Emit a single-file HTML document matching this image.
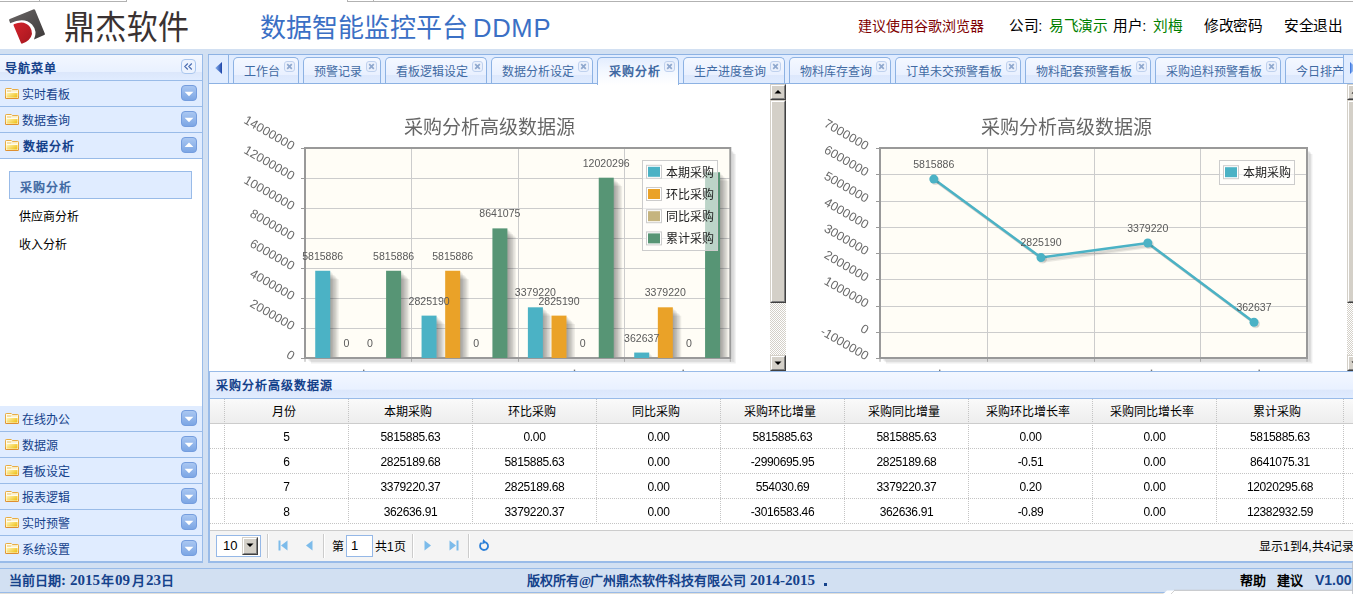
<!DOCTYPE html>
<html lang="zh-CN">
<head>
<meta charset="utf-8">
<title>数据智能监控平台 DDMP</title>
<style>
html,body{margin:0;padding:0}
body{width:1353px;height:594px;overflow:hidden;position:relative;background:#D2E0F2;font-family:"Liberation Sans",sans-serif;font-size:12px;line-height:12px;color:#000}
div,span,svg{position:absolute;box-sizing:border-box;white-space:nowrap}
.t{height:12px;line-height:12px;font-size:12px;margin-top:1px}
.b{font-weight:bold}
.b i{width:13px}
.nav{color:#15428B}
.hd{left:0;width:202px;height:25px;background:#E0ECFF}
.hl{left:0;width:202px;height:1px;background:#99BBE8}
.ab{left:181px;width:16px;height:16px}
.fi{left:5px;width:14px;height:11px}
.tab{top:57px;height:27px;border:1px solid #8DB2E3;border-bottom:0;border-radius:5px 5px 0 0;background:linear-gradient(#F4F8FF 0,#E9F0FF 68%,#DDE8FC 70%,#E0ECFF 100%);color:#416AA3}
.tab .t{left:10px;top:7px}
.tab.sel{background:linear-gradient(#E3EDFE 0,#F2F7FF 45%,#FFFFFF 100%);height:28px}
.cx{top:3px;right:3px;width:11px;height:11px}
.num{font-size:12px;letter-spacing:-0.35px;margin-top:0}
i{font-style:normal;display:inline-block;width:1em;text-align:center}
</style>
</head>
<body>
<div style="left:0;top:0;width:1353px;height:49px;background:#fff"></div>
<div style="left:0;top:1px;width:126px;height:1px;background:#b2b2b2"></div>
<div style="left:347px;top:1px;width:1006px;height:1px;background:#b2b2b2"></div>
<div style="left:39px;top:0;width:1px;height:2px;background:#b2b2b2"></div>
<div style="left:126px;top:0;width:1px;height:2px;background:#b2b2b2"></div>
<div style="left:347px;top:0;width:1px;height:2px;background:#b2b2b2"></div>
<div style="left:373px;top:0;width:1px;height:2px;background:#b2b2b2"></div>
<svg style="left:0;top:2px" width="200" height="47" viewBox="0 2 200 47"><defs><linearGradient id="lg1" x1="0" y1="0" x2="1" y2="1"><stop offset="0" stop-color="#6a6666"/><stop offset="1" stop-color="#3d3a3a"/></linearGradient><linearGradient id="lg2" x1="0" y1="0" x2="1" y2="1"><stop offset="0" stop-color="#d4232b"/><stop offset="1" stop-color="#a5171f"/></linearGradient></defs><path d="M9.2 20.6 Q8.6 19.6 9.8 19.1 L33.2 9.4 Q34.6 8.8 35.2 10.2 L44.8 33.4 Q45.3 34.6 44.2 35.1 L34 39.6 Q37.8 31.2 32 24.6 Q24.5 16.6 10.2 23.2 Z" fill="url(#lg1)"/><path d="M13.6 25.4 Q13.2 24.4 14.3 24 Q24.5 19.8 30 27 Q34.6 34 28.6 40 Q26 42.4 22.4 43.6 Q21.4 43.9 21 43 Z" fill="url(#lg2)"/><text x="64" y="37.5" font-size="31" textLength="125" lengthAdjust="spacing" fill="#3a3232" font-family="'Liberation Sans','Noto Sans CJK SC',sans-serif" transform="translate(0 11) scale(1 1.05) translate(0 -11)">鼎杰软件</text></svg>
<div style="left:260px;top:15px;height:27px;line-height:27px;font-size:26px;color:#3b70c5"><i>数</i><i>据</i><i>智</i><i>能</i><i>监</i><i>控</i><i>平</i><i>台</i></div>
<div style="left:473px;top:15px;height:27px;line-height:27px;font-size:25.6px;letter-spacing:0.7px;color:#3b70c5">DDMP</div>
<div style="left:858px;top:19px;height:14px;line-height:14px;font-size:14px;color:#800000"><i>建</i><i>议</i><i>使</i><i>用</i><i>谷</i><i>歌</i><i>浏</i><i>览</i><i>器</i></div>
<div style="left:1009px;top:19px;height:15px;line-height:15px;font-size:14.67px"><i>公</i><i>司</i>:</div>
<div style="left:1049px;top:19px;height:15px;line-height:15px;font-size:14.67px;color:#008000"><i>易</i><i>飞</i><i>演</i><i>示</i></div>
<div style="left:1113px;top:19px;height:15px;line-height:15px;font-size:14.67px"><i>用</i><i>户</i>:</div>
<div style="left:1153px;top:19px;height:15px;line-height:15px;font-size:14.67px;color:#008000"><i>刘</i><i>梅</i></div>
<div style="left:1204px;top:19px;height:15px;line-height:15px;font-size:14.67px"><i>修</i><i>改</i><i>密</i><i>码</i></div>
<div style="left:1284px;top:19px;height:15px;line-height:15px;font-size:14.67px"><i>安</i><i>全</i><i>退</i><i>出</i></div>
<div style="left:-1px;top:54px;width:204px;height:509px;border:1px solid #99BBE8;background:#fff"></div>
<div style="left:0;top:55px;width:202px;height:25px;background:linear-gradient(#F3F7FF 0,#E9F1FF 66%,#DCE7FB 70%,#E0ECFF 100%)"></div>
<div class="hl" style="top:80px"></div>
<div class="t b nav" style="left:4px;top:62px"><i>导</i><i>航</i><i>菜</i><i>单</i></div>
<svg style="left:181px;top:59px" width="15" height="15" viewBox="0 0 15 15"><rect x="0.5" y="0.5" width="14" height="14" rx="3.5" fill="#EDF3FE" stroke="#A9C6EE"/><path d="M6.8 4.5L3.8 7.5L6.8 10.5M10.8 4.5L7.8 7.5L10.8 10.5" fill="none" stroke="#4A6CB0" stroke-width="1.15"/></svg>
<div class="hd" style="top:81px"></div>
<div class="hl" style="top:106px"></div>
<svg class="fi" style="top:88px" viewBox="0 0 14 11"><defs><linearGradient id="fg0" x1="0" y1="0" x2="1" y2="0.6"><stop offset="0" stop-color="#FFF5B8"/><stop offset="1" stop-color="#F0C524"/></linearGradient></defs><path d="M0.5 1.2Q0.5 0.5 1.2 0.5H6.3L7.3 1.5H12.8Q13.5 1.5 13.5 2.2V9.8Q13.5 10.5 12.8 10.5H1.2Q0.5 10.5 0.5 9.8Z" fill="#FFFCEC" stroke="#E8AC44"/><path d="M2 2.4H6V3.6H2Z" fill="#EFCB78"/><path d="M6 2.9H12.5" stroke="#F3DA9A" stroke-width="0.8"/><path d="M1.5 5H12.5V9.6H1.5Z" fill="url(#fg0)"/><path d="M0.5 8.5V9.8Q0.5 10.5 1.2 10.5H12.8Q13.5 10.5 13.5 9.8V8.5" fill="none" stroke="#DE8F30"/></svg>
<div class="t nav" style="left:22px;top:88px"><i>实</i><i>时</i><i>看</i><i>板</i></div>
<svg class="ab" style="top:85px" viewBox="0 0 16 16"><defs><linearGradient id="ag85" x1="0" y1="0" x2="0" y2="1"><stop offset="0" stop-color="#ABC8F2"/><stop offset="1" stop-color="#7BA5E4"/></linearGradient></defs><rect x="0.5" y="0.5" width="15" height="15" rx="3.5" fill="url(#ag85)" stroke="#759DDE"/><path d="M3.6 6.8L8 11.2L12.4 6.8Z" fill="#fff"/></svg>
<div class="hd" style="top:107px"></div>
<div class="hl" style="top:132px"></div>
<svg class="fi" style="top:114px" viewBox="0 0 14 11"><defs><linearGradient id="fg1" x1="0" y1="0" x2="1" y2="0.6"><stop offset="0" stop-color="#FFF5B8"/><stop offset="1" stop-color="#F0C524"/></linearGradient></defs><path d="M0.5 1.2Q0.5 0.5 1.2 0.5H6.3L7.3 1.5H12.8Q13.5 1.5 13.5 2.2V9.8Q13.5 10.5 12.8 10.5H1.2Q0.5 10.5 0.5 9.8Z" fill="#FFFCEC" stroke="#E8AC44"/><path d="M2 2.4H6V3.6H2Z" fill="#EFCB78"/><path d="M6 2.9H12.5" stroke="#F3DA9A" stroke-width="0.8"/><path d="M1.5 5H12.5V9.6H1.5Z" fill="url(#fg1)"/><path d="M0.5 8.5V9.8Q0.5 10.5 1.2 10.5H12.8Q13.5 10.5 13.5 9.8V8.5" fill="none" stroke="#DE8F30"/></svg>
<div class="t nav" style="left:22px;top:114px"><i>数</i><i>据</i><i>查</i><i>询</i></div>
<svg class="ab" style="top:111px" viewBox="0 0 16 16"><defs><linearGradient id="ag111" x1="0" y1="0" x2="0" y2="1"><stop offset="0" stop-color="#ABC8F2"/><stop offset="1" stop-color="#7BA5E4"/></linearGradient></defs><rect x="0.5" y="0.5" width="15" height="15" rx="3.5" fill="url(#ag111)" stroke="#759DDE"/><path d="M3.6 6.8L8 11.2L12.4 6.8Z" fill="#fff"/></svg>
<div class="hd" style="top:133px"></div>
<div class="hl" style="top:158px"></div>
<svg class="fi" style="top:140px" viewBox="0 0 14 11"><defs><linearGradient id="fg2" x1="0" y1="0" x2="1" y2="0.6"><stop offset="0" stop-color="#FFF5B8"/><stop offset="1" stop-color="#F0C524"/></linearGradient></defs><path d="M0.5 1.2Q0.5 0.5 1.2 0.5H6.3L7.3 1.5H12.8Q13.5 1.5 13.5 2.2V9.8Q13.5 10.5 12.8 10.5H1.2Q0.5 10.5 0.5 9.8Z" fill="#FFFCEC" stroke="#E8AC44"/><path d="M2 2.4H6V3.6H2Z" fill="#EFCB78"/><path d="M6 2.9H12.5" stroke="#F3DA9A" stroke-width="0.8"/><path d="M1.5 5H12.5V9.6H1.5Z" fill="url(#fg2)"/><path d="M0.5 8.5V9.8Q0.5 10.5 1.2 10.5H12.8Q13.5 10.5 13.5 9.8V8.5" fill="none" stroke="#DE8F30"/></svg>
<div class="t nav b" style="left:22px;top:140px"><i>数</i><i>据</i><i>分</i><i>析</i></div>
<svg class="ab" style="top:137px" viewBox="0 0 16 16"><defs><linearGradient id="ag137" x1="0" y1="0" x2="0" y2="1"><stop offset="0" stop-color="#ABC8F2"/><stop offset="1" stop-color="#7BA5E4"/></linearGradient></defs><rect x="0.5" y="0.5" width="15" height="15" rx="3.5" fill="url(#ag137)" stroke="#759DDE"/><path d="M3.6 9.9L8 5.5L12.4 9.9Z" fill="#fff"/></svg>
<div class="hd" style="top:406px"></div>
<div class="hl" style="top:431px"></div>
<svg class="fi" style="top:413px" viewBox="0 0 14 11"><defs><linearGradient id="fg3" x1="0" y1="0" x2="1" y2="0.6"><stop offset="0" stop-color="#FFF5B8"/><stop offset="1" stop-color="#F0C524"/></linearGradient></defs><path d="M0.5 1.2Q0.5 0.5 1.2 0.5H6.3L7.3 1.5H12.8Q13.5 1.5 13.5 2.2V9.8Q13.5 10.5 12.8 10.5H1.2Q0.5 10.5 0.5 9.8Z" fill="#FFFCEC" stroke="#E8AC44"/><path d="M2 2.4H6V3.6H2Z" fill="#EFCB78"/><path d="M6 2.9H12.5" stroke="#F3DA9A" stroke-width="0.8"/><path d="M1.5 5H12.5V9.6H1.5Z" fill="url(#fg3)"/><path d="M0.5 8.5V9.8Q0.5 10.5 1.2 10.5H12.8Q13.5 10.5 13.5 9.8V8.5" fill="none" stroke="#DE8F30"/></svg>
<div class="t nav" style="left:22px;top:413px"><i>在</i><i>线</i><i>办</i><i>公</i></div>
<svg class="ab" style="top:410px" viewBox="0 0 16 16"><defs><linearGradient id="ag410" x1="0" y1="0" x2="0" y2="1"><stop offset="0" stop-color="#ABC8F2"/><stop offset="1" stop-color="#7BA5E4"/></linearGradient></defs><rect x="0.5" y="0.5" width="15" height="15" rx="3.5" fill="url(#ag410)" stroke="#759DDE"/><path d="M3.6 6.8L8 11.2L12.4 6.8Z" fill="#fff"/></svg>
<div class="hd" style="top:432px"></div>
<div class="hl" style="top:457px"></div>
<svg class="fi" style="top:439px" viewBox="0 0 14 11"><defs><linearGradient id="fg4" x1="0" y1="0" x2="1" y2="0.6"><stop offset="0" stop-color="#FFF5B8"/><stop offset="1" stop-color="#F0C524"/></linearGradient></defs><path d="M0.5 1.2Q0.5 0.5 1.2 0.5H6.3L7.3 1.5H12.8Q13.5 1.5 13.5 2.2V9.8Q13.5 10.5 12.8 10.5H1.2Q0.5 10.5 0.5 9.8Z" fill="#FFFCEC" stroke="#E8AC44"/><path d="M2 2.4H6V3.6H2Z" fill="#EFCB78"/><path d="M6 2.9H12.5" stroke="#F3DA9A" stroke-width="0.8"/><path d="M1.5 5H12.5V9.6H1.5Z" fill="url(#fg4)"/><path d="M0.5 8.5V9.8Q0.5 10.5 1.2 10.5H12.8Q13.5 10.5 13.5 9.8V8.5" fill="none" stroke="#DE8F30"/></svg>
<div class="t nav" style="left:22px;top:439px"><i>数</i><i>据</i><i>源</i></div>
<svg class="ab" style="top:436px" viewBox="0 0 16 16"><defs><linearGradient id="ag436" x1="0" y1="0" x2="0" y2="1"><stop offset="0" stop-color="#ABC8F2"/><stop offset="1" stop-color="#7BA5E4"/></linearGradient></defs><rect x="0.5" y="0.5" width="15" height="15" rx="3.5" fill="url(#ag436)" stroke="#759DDE"/><path d="M3.6 6.8L8 11.2L12.4 6.8Z" fill="#fff"/></svg>
<div class="hd" style="top:458px"></div>
<div class="hl" style="top:483px"></div>
<svg class="fi" style="top:465px" viewBox="0 0 14 11"><defs><linearGradient id="fg5" x1="0" y1="0" x2="1" y2="0.6"><stop offset="0" stop-color="#FFF5B8"/><stop offset="1" stop-color="#F0C524"/></linearGradient></defs><path d="M0.5 1.2Q0.5 0.5 1.2 0.5H6.3L7.3 1.5H12.8Q13.5 1.5 13.5 2.2V9.8Q13.5 10.5 12.8 10.5H1.2Q0.5 10.5 0.5 9.8Z" fill="#FFFCEC" stroke="#E8AC44"/><path d="M2 2.4H6V3.6H2Z" fill="#EFCB78"/><path d="M6 2.9H12.5" stroke="#F3DA9A" stroke-width="0.8"/><path d="M1.5 5H12.5V9.6H1.5Z" fill="url(#fg5)"/><path d="M0.5 8.5V9.8Q0.5 10.5 1.2 10.5H12.8Q13.5 10.5 13.5 9.8V8.5" fill="none" stroke="#DE8F30"/></svg>
<div class="t nav" style="left:22px;top:465px"><i>看</i><i>板</i><i>设</i><i>定</i></div>
<svg class="ab" style="top:462px" viewBox="0 0 16 16"><defs><linearGradient id="ag462" x1="0" y1="0" x2="0" y2="1"><stop offset="0" stop-color="#ABC8F2"/><stop offset="1" stop-color="#7BA5E4"/></linearGradient></defs><rect x="0.5" y="0.5" width="15" height="15" rx="3.5" fill="url(#ag462)" stroke="#759DDE"/><path d="M3.6 6.8L8 11.2L12.4 6.8Z" fill="#fff"/></svg>
<div class="hd" style="top:484px"></div>
<div class="hl" style="top:509px"></div>
<svg class="fi" style="top:491px" viewBox="0 0 14 11"><defs><linearGradient id="fg6" x1="0" y1="0" x2="1" y2="0.6"><stop offset="0" stop-color="#FFF5B8"/><stop offset="1" stop-color="#F0C524"/></linearGradient></defs><path d="M0.5 1.2Q0.5 0.5 1.2 0.5H6.3L7.3 1.5H12.8Q13.5 1.5 13.5 2.2V9.8Q13.5 10.5 12.8 10.5H1.2Q0.5 10.5 0.5 9.8Z" fill="#FFFCEC" stroke="#E8AC44"/><path d="M2 2.4H6V3.6H2Z" fill="#EFCB78"/><path d="M6 2.9H12.5" stroke="#F3DA9A" stroke-width="0.8"/><path d="M1.5 5H12.5V9.6H1.5Z" fill="url(#fg6)"/><path d="M0.5 8.5V9.8Q0.5 10.5 1.2 10.5H12.8Q13.5 10.5 13.5 9.8V8.5" fill="none" stroke="#DE8F30"/></svg>
<div class="t nav" style="left:22px;top:491px"><i>报</i><i>表</i><i>逻</i><i>辑</i></div>
<svg class="ab" style="top:488px" viewBox="0 0 16 16"><defs><linearGradient id="ag488" x1="0" y1="0" x2="0" y2="1"><stop offset="0" stop-color="#ABC8F2"/><stop offset="1" stop-color="#7BA5E4"/></linearGradient></defs><rect x="0.5" y="0.5" width="15" height="15" rx="3.5" fill="url(#ag488)" stroke="#759DDE"/><path d="M3.6 6.8L8 11.2L12.4 6.8Z" fill="#fff"/></svg>
<div class="hd" style="top:510px"></div>
<div class="hl" style="top:535px"></div>
<svg class="fi" style="top:517px" viewBox="0 0 14 11"><defs><linearGradient id="fg7" x1="0" y1="0" x2="1" y2="0.6"><stop offset="0" stop-color="#FFF5B8"/><stop offset="1" stop-color="#F0C524"/></linearGradient></defs><path d="M0.5 1.2Q0.5 0.5 1.2 0.5H6.3L7.3 1.5H12.8Q13.5 1.5 13.5 2.2V9.8Q13.5 10.5 12.8 10.5H1.2Q0.5 10.5 0.5 9.8Z" fill="#FFFCEC" stroke="#E8AC44"/><path d="M2 2.4H6V3.6H2Z" fill="#EFCB78"/><path d="M6 2.9H12.5" stroke="#F3DA9A" stroke-width="0.8"/><path d="M1.5 5H12.5V9.6H1.5Z" fill="url(#fg7)"/><path d="M0.5 8.5V9.8Q0.5 10.5 1.2 10.5H12.8Q13.5 10.5 13.5 9.8V8.5" fill="none" stroke="#DE8F30"/></svg>
<div class="t nav" style="left:22px;top:517px"><i>实</i><i>时</i><i>预</i><i>警</i></div>
<svg class="ab" style="top:514px" viewBox="0 0 16 16"><defs><linearGradient id="ag514" x1="0" y1="0" x2="0" y2="1"><stop offset="0" stop-color="#ABC8F2"/><stop offset="1" stop-color="#7BA5E4"/></linearGradient></defs><rect x="0.5" y="0.5" width="15" height="15" rx="3.5" fill="url(#ag514)" stroke="#759DDE"/><path d="M3.6 6.8L8 11.2L12.4 6.8Z" fill="#fff"/></svg>
<div class="hd" style="top:536px"></div>
<div class="hl" style="top:561px"></div>
<svg class="fi" style="top:543px" viewBox="0 0 14 11"><defs><linearGradient id="fg8" x1="0" y1="0" x2="1" y2="0.6"><stop offset="0" stop-color="#FFF5B8"/><stop offset="1" stop-color="#F0C524"/></linearGradient></defs><path d="M0.5 1.2Q0.5 0.5 1.2 0.5H6.3L7.3 1.5H12.8Q13.5 1.5 13.5 2.2V9.8Q13.5 10.5 12.8 10.5H1.2Q0.5 10.5 0.5 9.8Z" fill="#FFFCEC" stroke="#E8AC44"/><path d="M2 2.4H6V3.6H2Z" fill="#EFCB78"/><path d="M6 2.9H12.5" stroke="#F3DA9A" stroke-width="0.8"/><path d="M1.5 5H12.5V9.6H1.5Z" fill="url(#fg8)"/><path d="M0.5 8.5V9.8Q0.5 10.5 1.2 10.5H12.8Q13.5 10.5 13.5 9.8V8.5" fill="none" stroke="#DE8F30"/></svg>
<div class="t nav" style="left:22px;top:543px"><i>系</i><i>统</i><i>设</i><i>置</i></div>
<svg class="ab" style="top:540px" viewBox="0 0 16 16"><defs><linearGradient id="ag540" x1="0" y1="0" x2="0" y2="1"><stop offset="0" stop-color="#ABC8F2"/><stop offset="1" stop-color="#7BA5E4"/></linearGradient></defs><rect x="0.5" y="0.5" width="15" height="15" rx="3.5" fill="url(#ag540)" stroke="#759DDE"/><path d="M3.6 6.8L8 11.2L12.4 6.8Z" fill="#fff"/></svg>
<div style="left:9px;top:171px;width:183px;height:28px;border:1px solid #99BBE8;background:#E0ECFF"></div>
<div class="t b" style="left:19px;top:181px;color:#416AA3"><i>采</i><i>购</i><i>分</i><i>析</i></div>
<div class="t" style="left:19px;top:210px"><i>供</i><i>应</i><i>商</i><i>分</i><i>析</i></div>
<div class="t" style="left:19px;top:238px"><i>收</i><i>入</i><i>分</i><i>析</i></div>
<div style="left:208px;top:54px;width:1155px;height:509px;border:1px solid #99BBE8;background:#fff"></div>
<div style="left:209px;top:55px;width:1144px;height:28px;background:#E0ECFF"></div>
<div style="left:208px;top:54px;width:1145px;height:1px;background:#8DB2E3"></div>
<div style="left:209px;top:83px;width:1144px;height:1px;background:#8DB2E3"></div>
<div class="tab" style="left:233px;width:66px;height:26px"><span class="t"><i>工</i><i>作</i><i>台</i></span>
<svg class="cx" viewBox="0 0 11 11"><rect x="0.5" y="0.5" width="10" height="10" rx="2.5" fill="#EAF0FC" stroke="#BFD1EE"/><path d="M3.2 3.2L7.8 7.8M7.8 3.2L3.2 7.8" stroke="#8FA8CE" stroke-width="1.7" fill="none"/></svg></div>
<div class="tab" style="left:303px;width:78px;height:26px"><span class="t"><i>预</i><i>警</i><i>记</i><i>录</i></span>
<svg class="cx" viewBox="0 0 11 11"><rect x="0.5" y="0.5" width="10" height="10" rx="2.5" fill="#EAF0FC" stroke="#BFD1EE"/><path d="M3.2 3.2L7.8 7.8M7.8 3.2L3.2 7.8" stroke="#8FA8CE" stroke-width="1.7" fill="none"/></svg></div>
<div class="tab" style="left:385px;width:102px;height:26px"><span class="t"><i>看</i><i>板</i><i>逻</i><i>辑</i><i>设</i><i>定</i></span>
<svg class="cx" viewBox="0 0 11 11"><rect x="0.5" y="0.5" width="10" height="10" rx="2.5" fill="#EAF0FC" stroke="#BFD1EE"/><path d="M3.2 3.2L7.8 7.8M7.8 3.2L3.2 7.8" stroke="#8FA8CE" stroke-width="1.7" fill="none"/></svg></div>
<div class="tab" style="left:491px;width:102px;height:26px"><span class="t"><i>数</i><i>据</i><i>分</i><i>析</i><i>设</i><i>定</i></span>
<svg class="cx" viewBox="0 0 11 11"><rect x="0.5" y="0.5" width="10" height="10" rx="2.5" fill="#EAF0FC" stroke="#BFD1EE"/><path d="M3.2 3.2L7.8 7.8M7.8 3.2L3.2 7.8" stroke="#8FA8CE" stroke-width="1.7" fill="none"/></svg></div>
<div class="tab sel" style="left:597px;width:82px"><span class="t b"><i>采</i><i>购</i><i>分</i><i>析</i></span>
<svg class="cx" viewBox="0 0 11 11"><rect x="0.5" y="0.5" width="10" height="10" rx="2.5" fill="#EAF0FC" stroke="#BFD1EE"/><path d="M3.2 3.2L7.8 7.8M7.8 3.2L3.2 7.8" stroke="#8FA8CE" stroke-width="1.7" fill="none"/></svg></div>
<div class="tab" style="left:683px;width:102px;height:26px"><span class="t"><i>生</i><i>产</i><i>进</i><i>度</i><i>查</i><i>询</i></span>
<svg class="cx" viewBox="0 0 11 11"><rect x="0.5" y="0.5" width="10" height="10" rx="2.5" fill="#EAF0FC" stroke="#BFD1EE"/><path d="M3.2 3.2L7.8 7.8M7.8 3.2L3.2 7.8" stroke="#8FA8CE" stroke-width="1.7" fill="none"/></svg></div>
<div class="tab" style="left:789px;width:102px;height:26px"><span class="t"><i>物</i><i>料</i><i>库</i><i>存</i><i>查</i><i>询</i></span>
<svg class="cx" viewBox="0 0 11 11"><rect x="0.5" y="0.5" width="10" height="10" rx="2.5" fill="#EAF0FC" stroke="#BFD1EE"/><path d="M3.2 3.2L7.8 7.8M7.8 3.2L3.2 7.8" stroke="#8FA8CE" stroke-width="1.7" fill="none"/></svg></div>
<div class="tab" style="left:895px;width:126px;height:26px"><span class="t"><i>订</i><i>单</i><i>未</i><i>交</i><i>预</i><i>警</i><i>看</i><i>板</i></span>
<svg class="cx" viewBox="0 0 11 11"><rect x="0.5" y="0.5" width="10" height="10" rx="2.5" fill="#EAF0FC" stroke="#BFD1EE"/><path d="M3.2 3.2L7.8 7.8M7.8 3.2L3.2 7.8" stroke="#8FA8CE" stroke-width="1.7" fill="none"/></svg></div>
<div class="tab" style="left:1025px;width:126px;height:26px"><span class="t"><i>物</i><i>料</i><i>配</i><i>套</i><i>预</i><i>警</i><i>看</i><i>板</i></span>
<svg class="cx" viewBox="0 0 11 11"><rect x="0.5" y="0.5" width="10" height="10" rx="2.5" fill="#EAF0FC" stroke="#BFD1EE"/><path d="M3.2 3.2L7.8 7.8M7.8 3.2L3.2 7.8" stroke="#8FA8CE" stroke-width="1.7" fill="none"/></svg></div>
<div class="tab" style="left:1155px;width:126px;height:26px"><span class="t"><i>采</i><i>购</i><i>追</i><i>料</i><i>预</i><i>警</i><i>看</i><i>板</i></span>
<svg class="cx" viewBox="0 0 11 11"><rect x="0.5" y="0.5" width="10" height="10" rx="2.5" fill="#EAF0FC" stroke="#BFD1EE"/><path d="M3.2 3.2L7.8 7.8M7.8 3.2L3.2 7.8" stroke="#8FA8CE" stroke-width="1.7" fill="none"/></svg></div>
<div class="tab" style="left:1285px;width:102px;height:26px"><span class="t"><i>今</i><i>日</i><i>排</i><i>产</i><i>计</i><i>划</i></span>
<svg class="cx" viewBox="0 0 11 11"><rect x="0.5" y="0.5" width="10" height="10" rx="2.5" fill="#EAF0FC" stroke="#BFD1EE"/><path d="M3.2 3.2L7.8 7.8M7.8 3.2L3.2 7.8" stroke="#8FA8CE" stroke-width="1.7" fill="none"/></svg></div>
<div style="left:209px;top:55px;width:19px;height:28px;background:#E0ECFF"></div>
<div style="left:228px;top:55px;width:1px;height:28px;background:#8DB2E3"></div>
<svg style="left:214px;top:61px" width="10" height="14" viewBox="0 0 10 14"><defs><linearGradient id="sa" x1="0" y1="0" x2="1" y2="0"><stop offset="0" stop-color="#8DB6F0"/><stop offset="1" stop-color="#1B43A8"/></linearGradient></defs><path d="M8 1V13L1.2 7Z" fill="url(#sa)"/></svg>
<div style="left:1343px;top:55px;width:10px;height:28px;background:#E0ECFF;border-left:1px solid #8DB2E3"></div>
<svg style="left:1348px;top:61px" width="10" height="14" viewBox="0 0 10 14"><defs><linearGradient id="sb" x1="0" y1="0" x2="1" y2="0"><stop offset="0" stop-color="#2F6ADB"/><stop offset="0.3" stop-color="#86B0F0"/><stop offset="1" stop-color="#B5D0F6"/></linearGradient></defs><path d="M2 1V13L8.8 7Z" fill="url(#sb)"/></svg>
<svg style="left:209px;top:84px;will-change:transform" width="561" height="287" viewBox="209 84 561 287"><path d="M308.3 359.3H731.5999999999999V151.3" fill="none" stroke="#000" stroke-opacity="0.07" stroke-width="3"/><path d="M309.6 360.6H732.9V152.6" fill="none" stroke="#000" stroke-opacity="0.07" stroke-width="3"/><path d="M310.9 361.9H734.1999999999999V153.9" fill="none" stroke="#000" stroke-opacity="0.07" stroke-width="3"/><rect x="305" y="148" width="425.30" height="210.00" fill="#fffdf6"/><path d="M305 178.50H730.3" stroke="#cccccc" stroke-width="1"/><path d="M305 208.50H730.3" stroke="#cccccc" stroke-width="1"/><path d="M305 238.50H730.3" stroke="#cccccc" stroke-width="1"/><path d="M305 268.50H730.3" stroke="#cccccc" stroke-width="1"/><path d="M305 298.50H730.3" stroke="#cccccc" stroke-width="1"/><path d="M305 328.50H730.3" stroke="#cccccc" stroke-width="1"/><path d="M411.50 148V358" stroke="#cccccc" stroke-width="1"/><path d="M518.50 148V358" stroke="#cccccc" stroke-width="1"/><path d="M624.50 148V358" stroke="#cccccc" stroke-width="1"/><path d="M301 148.50H305" stroke="#999" stroke-width="1"/><path d="M301 178.50H305" stroke="#999" stroke-width="1"/><path d="M301 208.50H305" stroke="#999" stroke-width="1"/><path d="M301 238.50H305" stroke="#999" stroke-width="1"/><path d="M301 268.50H305" stroke="#999" stroke-width="1"/><path d="M301 298.50H305" stroke="#999" stroke-width="1"/><path d="M301 328.50H305" stroke="#999" stroke-width="1"/><path d="M301 358.50H305" stroke="#999" stroke-width="1"/><path d="M305.00 358V361.8" stroke="#aaa" stroke-width="1"/><path d="M411.50 358V361.8" stroke="#aaa" stroke-width="1"/><path d="M518.50 358V361.8" stroke="#aaa" stroke-width="1"/><path d="M624.50 358V361.8" stroke="#aaa" stroke-width="1"/><path d="M730.30 358V361.8" stroke="#aaa" stroke-width="1"/><rect x="305" y="148" width="425.30" height="210.00" fill="none" stroke="#999999" stroke-width="2"/><rect x="316.63" y="272.16" width="15" height="84.84" fill="#1e1a16" fill-opacity="0.075"/><rect x="318.03" y="273.56" width="15" height="83.44" fill="#1e1a16" fill-opacity="0.075"/><rect x="319.43" y="274.96" width="15" height="82.04" fill="#1e1a16" fill-opacity="0.075"/><rect x="320.83" y="276.36" width="15" height="80.64" fill="#1e1a16" fill-opacity="0.075"/><rect x="322.23" y="277.76" width="15" height="79.24" fill="#1e1a16" fill-opacity="0.075"/><rect x="323.63" y="279.16" width="15" height="77.84" fill="#1e1a16" fill-opacity="0.075"/><rect x="387.49" y="272.16" width="15" height="84.84" fill="#1e1a16" fill-opacity="0.075"/><rect x="388.89" y="273.56" width="15" height="83.44" fill="#1e1a16" fill-opacity="0.075"/><rect x="390.29" y="274.96" width="15" height="82.04" fill="#1e1a16" fill-opacity="0.075"/><rect x="391.69" y="276.36" width="15" height="80.64" fill="#1e1a16" fill-opacity="0.075"/><rect x="393.09" y="277.76" width="15" height="79.24" fill="#1e1a16" fill-opacity="0.075"/><rect x="394.49" y="279.16" width="15" height="77.84" fill="#1e1a16" fill-opacity="0.075"/><rect x="422.96" y="317.02" width="15" height="39.98" fill="#1e1a16" fill-opacity="0.075"/><rect x="424.36" y="318.42" width="15" height="38.58" fill="#1e1a16" fill-opacity="0.075"/><rect x="425.76" y="319.82" width="15" height="37.18" fill="#1e1a16" fill-opacity="0.075"/><rect x="427.16" y="321.22" width="15" height="35.78" fill="#1e1a16" fill-opacity="0.075"/><rect x="428.56" y="322.62" width="15" height="34.38" fill="#1e1a16" fill-opacity="0.075"/><rect x="429.96" y="324.02" width="15" height="32.98" fill="#1e1a16" fill-opacity="0.075"/><rect x="446.58" y="272.16" width="15" height="84.84" fill="#1e1a16" fill-opacity="0.075"/><rect x="447.98" y="273.56" width="15" height="83.44" fill="#1e1a16" fill-opacity="0.075"/><rect x="449.38" y="274.96" width="15" height="82.04" fill="#1e1a16" fill-opacity="0.075"/><rect x="450.78" y="276.36" width="15" height="80.64" fill="#1e1a16" fill-opacity="0.075"/><rect x="452.18" y="277.76" width="15" height="79.24" fill="#1e1a16" fill-opacity="0.075"/><rect x="453.58" y="279.16" width="15" height="77.84" fill="#1e1a16" fill-opacity="0.075"/><rect x="493.82" y="229.78" width="15" height="127.22" fill="#1e1a16" fill-opacity="0.075"/><rect x="495.22" y="231.18" width="15" height="125.82" fill="#1e1a16" fill-opacity="0.075"/><rect x="496.62" y="232.58" width="15" height="124.42" fill="#1e1a16" fill-opacity="0.075"/><rect x="498.02" y="233.98" width="15" height="123.02" fill="#1e1a16" fill-opacity="0.075"/><rect x="499.42" y="235.38" width="15" height="121.62" fill="#1e1a16" fill-opacity="0.075"/><rect x="500.82" y="236.78" width="15" height="120.22" fill="#1e1a16" fill-opacity="0.075"/><rect x="529.28" y="308.71" width="15" height="48.29" fill="#1e1a16" fill-opacity="0.075"/><rect x="530.68" y="310.11" width="15" height="46.89" fill="#1e1a16" fill-opacity="0.075"/><rect x="532.08" y="311.51" width="15" height="45.49" fill="#1e1a16" fill-opacity="0.075"/><rect x="533.48" y="312.91" width="15" height="44.09" fill="#1e1a16" fill-opacity="0.075"/><rect x="534.88" y="314.31" width="15" height="42.69" fill="#1e1a16" fill-opacity="0.075"/><rect x="536.28" y="315.71" width="15" height="41.29" fill="#1e1a16" fill-opacity="0.075"/><rect x="552.90" y="317.02" width="15" height="39.98" fill="#1e1a16" fill-opacity="0.075"/><rect x="554.30" y="318.42" width="15" height="38.58" fill="#1e1a16" fill-opacity="0.075"/><rect x="555.70" y="319.82" width="15" height="37.18" fill="#1e1a16" fill-opacity="0.075"/><rect x="557.10" y="321.22" width="15" height="35.78" fill="#1e1a16" fill-opacity="0.075"/><rect x="558.50" y="322.62" width="15" height="34.38" fill="#1e1a16" fill-opacity="0.075"/><rect x="559.90" y="324.02" width="15" height="32.98" fill="#1e1a16" fill-opacity="0.075"/><rect x="600.14" y="179.10" width="15" height="177.90" fill="#1e1a16" fill-opacity="0.075"/><rect x="601.54" y="180.50" width="15" height="176.50" fill="#1e1a16" fill-opacity="0.075"/><rect x="602.94" y="181.90" width="15" height="175.10" fill="#1e1a16" fill-opacity="0.075"/><rect x="604.34" y="183.30" width="15" height="173.70" fill="#1e1a16" fill-opacity="0.075"/><rect x="605.74" y="184.70" width="15" height="172.30" fill="#1e1a16" fill-opacity="0.075"/><rect x="607.14" y="186.10" width="15" height="170.90" fill="#1e1a16" fill-opacity="0.075"/><rect x="635.61" y="353.96" width="15" height="3.04" fill="#1e1a16" fill-opacity="0.075"/><rect x="637.01" y="355.36" width="15" height="1.64" fill="#1e1a16" fill-opacity="0.075"/><rect x="638.41" y="356.76" width="15" height="0.24" fill="#1e1a16" fill-opacity="0.075"/><rect x="639.81" y="358.16" width="15" height="0.00" fill="#1e1a16" fill-opacity="0.075"/><rect x="641.21" y="359.56" width="15" height="0.00" fill="#1e1a16" fill-opacity="0.075"/><rect x="642.61" y="360.96" width="15" height="0.00" fill="#1e1a16" fill-opacity="0.075"/><rect x="659.23" y="308.71" width="15" height="48.29" fill="#1e1a16" fill-opacity="0.075"/><rect x="660.63" y="310.11" width="15" height="46.89" fill="#1e1a16" fill-opacity="0.075"/><rect x="662.03" y="311.51" width="15" height="45.49" fill="#1e1a16" fill-opacity="0.075"/><rect x="663.43" y="312.91" width="15" height="44.09" fill="#1e1a16" fill-opacity="0.075"/><rect x="664.83" y="314.31" width="15" height="42.69" fill="#1e1a16" fill-opacity="0.075"/><rect x="666.23" y="315.71" width="15" height="41.29" fill="#1e1a16" fill-opacity="0.075"/><rect x="706.47" y="173.66" width="15" height="183.34" fill="#1e1a16" fill-opacity="0.075"/><rect x="707.87" y="175.06" width="15" height="181.94" fill="#1e1a16" fill-opacity="0.075"/><rect x="709.27" y="176.46" width="15" height="180.54" fill="#1e1a16" fill-opacity="0.075"/><rect x="710.67" y="177.86" width="15" height="179.14" fill="#1e1a16" fill-opacity="0.075"/><rect x="712.07" y="179.26" width="15" height="177.74" fill="#1e1a16" fill-opacity="0.075"/><rect x="713.47" y="180.66" width="15" height="176.34" fill="#1e1a16" fill-opacity="0.075"/><rect x="315.23" y="270.76" width="15" height="87.24" fill="#4bb2c5"/><rect x="386.09" y="270.76" width="15" height="87.24" fill="#579575"/><rect x="421.56" y="315.62" width="15" height="42.38" fill="#4bb2c5"/><rect x="445.18" y="270.76" width="15" height="87.24" fill="#EAA228"/><rect x="492.42" y="228.38" width="15" height="129.62" fill="#579575"/><rect x="527.88" y="307.31" width="15" height="50.69" fill="#4bb2c5"/><rect x="551.50" y="315.62" width="15" height="42.38" fill="#EAA228"/><rect x="598.74" y="177.70" width="15" height="180.30" fill="#579575"/><rect x="634.21" y="352.56" width="15" height="5.44" fill="#4bb2c5"/><rect x="657.83" y="307.31" width="15" height="50.69" fill="#EAA228"/><rect x="705.07" y="172.26" width="15" height="185.74" fill="#579575"/><text x="291.5" y="150.6" text-anchor="end" transform="rotate(30 291.5 150.6)" font-family="Liberation Sans, sans-serif" font-size="12.6" fill="#6b6b6b">14000000</text><text x="291.5" y="180.6" text-anchor="end" transform="rotate(30 291.5 180.6)" font-family="Liberation Sans, sans-serif" font-size="12.6" fill="#6b6b6b">12000000</text><text x="291.5" y="210.6" text-anchor="end" transform="rotate(30 291.5 210.6)" font-family="Liberation Sans, sans-serif" font-size="12.6" fill="#6b6b6b">10000000</text><text x="291.5" y="240.6" text-anchor="end" transform="rotate(30 291.5 240.6)" font-family="Liberation Sans, sans-serif" font-size="12.6" fill="#6b6b6b">8000000</text><text x="291.5" y="270.6" text-anchor="end" transform="rotate(30 291.5 270.6)" font-family="Liberation Sans, sans-serif" font-size="12.6" fill="#6b6b6b">6000000</text><text x="291.5" y="300.6" text-anchor="end" transform="rotate(30 291.5 300.6)" font-family="Liberation Sans, sans-serif" font-size="12.6" fill="#6b6b6b">4000000</text><text x="291.5" y="330.6" text-anchor="end" transform="rotate(30 291.5 330.6)" font-family="Liberation Sans, sans-serif" font-size="12.6" fill="#6b6b6b">2000000</text><text x="291.5" y="360.6" text-anchor="end" transform="rotate(30 291.5 360.6)" font-family="Liberation Sans, sans-serif" font-size="12.6" fill="#6b6b6b">0</text><text x="322.7" y="259.8" text-anchor="middle" textLength="41.1" lengthAdjust="spacingAndGlyphs" font-family="Liberation Sans, sans-serif" font-size="11.6" fill="#5a5a5a">5815886</text><text x="346.4" y="347.0" text-anchor="middle" textLength="5.9" lengthAdjust="spacingAndGlyphs" font-family="Liberation Sans, sans-serif" font-size="11.6" fill="#5a5a5a">0</text><text x="370.0" y="347.0" text-anchor="middle" textLength="5.9" lengthAdjust="spacingAndGlyphs" font-family="Liberation Sans, sans-serif" font-size="11.6" fill="#5a5a5a">0</text><text x="393.6" y="259.8" text-anchor="middle" textLength="41.1" lengthAdjust="spacingAndGlyphs" font-family="Liberation Sans, sans-serif" font-size="11.6" fill="#5a5a5a">5815886</text><text x="429.1" y="304.6" text-anchor="middle" textLength="41.1" lengthAdjust="spacingAndGlyphs" font-family="Liberation Sans, sans-serif" font-size="11.6" fill="#5a5a5a">2825190</text><text x="452.7" y="259.8" text-anchor="middle" textLength="41.1" lengthAdjust="spacingAndGlyphs" font-family="Liberation Sans, sans-serif" font-size="11.6" fill="#5a5a5a">5815886</text><text x="476.3" y="347.0" text-anchor="middle" textLength="5.9" lengthAdjust="spacingAndGlyphs" font-family="Liberation Sans, sans-serif" font-size="11.6" fill="#5a5a5a">0</text><text x="499.9" y="217.4" text-anchor="middle" textLength="41.1" lengthAdjust="spacingAndGlyphs" font-family="Liberation Sans, sans-serif" font-size="11.6" fill="#5a5a5a">8641075</text><text x="535.4" y="296.3" text-anchor="middle" textLength="41.1" lengthAdjust="spacingAndGlyphs" font-family="Liberation Sans, sans-serif" font-size="11.6" fill="#5a5a5a">3379220</text><text x="559.0" y="304.6" text-anchor="middle" textLength="41.1" lengthAdjust="spacingAndGlyphs" font-family="Liberation Sans, sans-serif" font-size="11.6" fill="#5a5a5a">2825190</text><text x="582.6" y="347.0" text-anchor="middle" textLength="5.9" lengthAdjust="spacingAndGlyphs" font-family="Liberation Sans, sans-serif" font-size="11.6" fill="#5a5a5a">0</text><text x="606.2" y="166.7" text-anchor="middle" textLength="47.0" lengthAdjust="spacingAndGlyphs" font-family="Liberation Sans, sans-serif" font-size="11.6" fill="#5a5a5a">12020296</text><text x="641.7" y="341.6" text-anchor="middle" textLength="35.2" lengthAdjust="spacingAndGlyphs" font-family="Liberation Sans, sans-serif" font-size="11.6" fill="#5a5a5a">362637</text><text x="665.3" y="296.3" text-anchor="middle" textLength="41.1" lengthAdjust="spacingAndGlyphs" font-family="Liberation Sans, sans-serif" font-size="11.6" fill="#5a5a5a">3379220</text><text x="688.9" y="347.0" text-anchor="middle" textLength="5.9" lengthAdjust="spacingAndGlyphs" font-family="Liberation Sans, sans-serif" font-size="11.6" fill="#5a5a5a">0</text><rect x="363.0" y="369.6" width="1.4" height="1.4" fill="#777"/><rect x="573.8" y="369.6" width="1.4" height="1.4" fill="#777"/><rect x="682.5" y="369.6" width="1.4" height="1.4" fill="#777"/><rect x="642.5" y="160.5" width="75" height="90" fill="#fff" fill-opacity="0.6" stroke="#ccc"/><rect x="646.5" y="165.3" width="15" height="13" fill="#fff" stroke="#ccc"/><rect x="648" y="166.8" width="12" height="10" fill="#4bb2c5"/><rect x="646.5" y="187.5" width="15" height="13" fill="#fff" stroke="#ccc"/><rect x="648" y="189.0" width="12" height="10" fill="#EAA228"/><rect x="646.5" y="209.7" width="15" height="13" fill="#fff" stroke="#ccc"/><rect x="648" y="211.2" width="12" height="10" fill="#c5b47f"/><rect x="646.5" y="231.9" width="15" height="13" fill="#fff" stroke="#ccc"/><rect x="648" y="233.4" width="12" height="10" fill="#579575"/></svg>
<div style="left:209px;top:117px;width:561px;height:21px;line-height:21px;font-size:19px;color:#666;text-align:center"><i>采</i><i>购</i><i>分</i><i>析</i><i>高</i><i>级</i><i>数</i><i>据</i><i>源</i></div>
<div class="t" style="left:666px;top:165.8px;color:#222"><i>本</i><i>期</i><i>采</i><i>购</i></div>
<div class="t" style="left:666px;top:188.0px;color:#222"><i>环</i><i>比</i><i>采</i><i>购</i></div>
<div class="t" style="left:666px;top:210.2px;color:#222"><i>同</i><i>比</i><i>采</i><i>购</i></div>
<div class="t" style="left:666px;top:232.4px;color:#222"><i>累</i><i>计</i><i>采</i><i>购</i></div>
<svg style="left:786px;top:84px;will-change:transform" width="561" height="287" viewBox="786 84 561 287"><path d="M883.3 359.3H1308.3V151.3" fill="none" stroke="#000" stroke-opacity="0.07" stroke-width="3"/><path d="M884.6 360.6H1309.6V152.6" fill="none" stroke="#000" stroke-opacity="0.07" stroke-width="3"/><path d="M885.9 361.9H1310.9V153.9" fill="none" stroke="#000" stroke-opacity="0.07" stroke-width="3"/><rect x="880" y="148" width="427.00" height="210.00" fill="#fffdf6"/><path d="M880 174.50H1307" stroke="#cccccc" stroke-width="1"/><path d="M880 201.50H1307" stroke="#cccccc" stroke-width="1"/><path d="M880 227.50H1307" stroke="#cccccc" stroke-width="1"/><path d="M880 253.50H1307" stroke="#cccccc" stroke-width="1"/><path d="M880 279.50H1307" stroke="#cccccc" stroke-width="1"/><path d="M880 306.50H1307" stroke="#cccccc" stroke-width="1"/><path d="M880 332.50H1307" stroke="#cccccc" stroke-width="1"/><path d="M987.50 148V358" stroke="#cccccc" stroke-width="1"/><path d="M1094.50 148V358" stroke="#cccccc" stroke-width="1"/><path d="M1200.50 148V358" stroke="#cccccc" stroke-width="1"/><path d="M876 148.50H880" stroke="#999" stroke-width="1"/><path d="M876 174.50H880" stroke="#999" stroke-width="1"/><path d="M876 201.50H880" stroke="#999" stroke-width="1"/><path d="M876 227.50H880" stroke="#999" stroke-width="1"/><path d="M876 253.50H880" stroke="#999" stroke-width="1"/><path d="M876 279.50H880" stroke="#999" stroke-width="1"/><path d="M876 306.50H880" stroke="#999" stroke-width="1"/><path d="M876 332.50H880" stroke="#999" stroke-width="1"/><path d="M876 358.50H880" stroke="#999" stroke-width="1"/><path d="M880.00 358V361.8" stroke="#aaa" stroke-width="1"/><path d="M987.50 358V361.8" stroke="#aaa" stroke-width="1"/><path d="M1094.50 358V361.8" stroke="#aaa" stroke-width="1"/><path d="M1200.50 358V361.8" stroke="#aaa" stroke-width="1"/><path d="M1307.00 358V361.8" stroke="#aaa" stroke-width="1"/><rect x="880" y="148" width="427.00" height="210.00" fill="none" stroke="#999999" stroke-width="2"/><path d="M933.8 179.1L1041.0 257.6L1147.8 243.0L1254.0 322.2" transform="translate(1.2 1.2)" fill="none" stroke="#000" stroke-opacity="0.08" stroke-width="2.5" stroke-linejoin="round" stroke-linecap="round"/><path d="M933.8 179.1L1041.0 257.6L1147.8 243.0L1254.0 322.2" transform="translate(2.4 2.4)" fill="none" stroke="#000" stroke-opacity="0.08" stroke-width="2.5" stroke-linejoin="round" stroke-linecap="round"/><path d="M933.8 179.1L1041.0 257.6L1147.8 243.0L1254.0 322.2" transform="translate(3.5999999999999996 3.5999999999999996)" fill="none" stroke="#000" stroke-opacity="0.08" stroke-width="2.5" stroke-linejoin="round" stroke-linecap="round"/><path d="M933.8 179.1L1041.0 257.6L1147.8 243.0L1254.0 322.2" fill="none" stroke="#4bb2c5" stroke-width="2.5" stroke-linejoin="round" stroke-linecap="round"/><circle cx="935.2" cy="180.6" r="4.5" fill="#000" fill-opacity="0.12"/><circle cx="933.8" cy="179.1" r="4.5" fill="#4bb2c5"/><circle cx="1042.5" cy="259.1" r="4.5" fill="#000" fill-opacity="0.12"/><circle cx="1041.0" cy="257.6" r="4.5" fill="#4bb2c5"/><circle cx="1149.2" cy="244.5" r="4.5" fill="#000" fill-opacity="0.12"/><circle cx="1147.8" cy="243.0" r="4.5" fill="#4bb2c5"/><circle cx="1255.5" cy="323.7" r="4.5" fill="#000" fill-opacity="0.12"/><circle cx="1254.0" cy="322.2" r="4.5" fill="#4bb2c5"/><text x="865.6" y="150.6" text-anchor="end" transform="rotate(30 865.6 150.6)" font-family="Liberation Sans, sans-serif" font-size="12.6" fill="#6b6b6b">7000000</text><text x="865.6" y="176.8" text-anchor="end" transform="rotate(30 865.6 176.8)" font-family="Liberation Sans, sans-serif" font-size="12.6" fill="#6b6b6b">6000000</text><text x="865.6" y="203.1" text-anchor="end" transform="rotate(30 865.6 203.1)" font-family="Liberation Sans, sans-serif" font-size="12.6" fill="#6b6b6b">5000000</text><text x="865.6" y="229.3" text-anchor="end" transform="rotate(30 865.6 229.3)" font-family="Liberation Sans, sans-serif" font-size="12.6" fill="#6b6b6b">4000000</text><text x="865.6" y="255.6" text-anchor="end" transform="rotate(30 865.6 255.6)" font-family="Liberation Sans, sans-serif" font-size="12.6" fill="#6b6b6b">3000000</text><text x="865.6" y="281.9" text-anchor="end" transform="rotate(30 865.6 281.9)" font-family="Liberation Sans, sans-serif" font-size="12.6" fill="#6b6b6b">2000000</text><text x="865.6" y="308.1" text-anchor="end" transform="rotate(30 865.6 308.1)" font-family="Liberation Sans, sans-serif" font-size="12.6" fill="#6b6b6b">1000000</text><text x="865.6" y="334.4" text-anchor="end" transform="rotate(30 865.6 334.4)" font-family="Liberation Sans, sans-serif" font-size="12.6" fill="#6b6b6b">0</text><text x="865.6" y="360.6" text-anchor="end" transform="rotate(30 865.6 360.6)" font-family="Liberation Sans, sans-serif" font-size="12.6" fill="#6b6b6b">-1000000</text><text x="933.8" y="167.7" text-anchor="middle" textLength="41.1" lengthAdjust="spacingAndGlyphs" font-family="Liberation Sans, sans-serif" font-size="11.6" fill="#5a5a5a">5815886</text><text x="1041.0" y="246.2" text-anchor="middle" textLength="41.1" lengthAdjust="spacingAndGlyphs" font-family="Liberation Sans, sans-serif" font-size="11.6" fill="#5a5a5a">2825190</text><text x="1147.8" y="231.6" text-anchor="middle" textLength="41.1" lengthAdjust="spacingAndGlyphs" font-family="Liberation Sans, sans-serif" font-size="11.6" fill="#5a5a5a">3379220</text><text x="1254.0" y="310.8" text-anchor="middle" textLength="35.2" lengthAdjust="spacingAndGlyphs" font-family="Liberation Sans, sans-serif" font-size="11.6" fill="#5a5a5a">362637</text><rect x="939.0" y="369.6" width="1.4" height="1.4" fill="#777"/><rect x="1150.8" y="369.6" width="1.4" height="1.4" fill="#777"/><rect x="1258.5" y="369.6" width="1.4" height="1.4" fill="#777"/><rect x="1219.5" y="160.5" width="75" height="24" fill="#fff" fill-opacity="0.6" stroke="#ccc"/><rect x="1223.5" y="165.7" width="15" height="13" fill="#fff" stroke="#ccc"/><rect x="1225" y="167.2" width="12" height="10" fill="#4bb2c5"/></svg>
<div style="left:786px;top:117px;width:561px;height:21px;line-height:21px;font-size:19px;color:#666;text-align:center"><i>采</i><i>购</i><i>分</i><i>析</i><i>高</i><i>级</i><i>数</i><i>据</i><i>源</i></div>
<div class="t" style="left:1243px;top:166.2px;color:#222"><i>本</i><i>期</i><i>采</i><i>购</i></div>
<div style="left:770px;top:84px;width:16px;height:287px;background-color:#D4D0C8;background-image:linear-gradient(45deg,#fff 25%,transparent 25%,transparent 75%,#fff 75%),linear-gradient(45deg,#fff 25%,transparent 25%,transparent 75%,#fff 75%);background-size:2px 2px;background-position:0 0,1px 1px"></div>
<div style="left:770px;top:84px;width:16px;height:16px;background:#D4D0C8;border:1px solid;border-color:#D4D0C8 #404040 #404040 #D4D0C8"></div>
<div style="left:771px;top:85px;width:14px;height:14px;border:1px solid;border-color:#fff #808080 #808080 #fff"></div>
<svg style="left:774px;top:89px" width="8" height="5" viewBox="0 0 8 5"><path d="M0.5 4.5H7.5L4 1Z" fill="#000"/></svg>
<div style="left:770px;top:100px;width:16px;height:203px;background:#D4D0C8;border:1px solid;border-color:#D4D0C8 #404040 #404040 #D4D0C8"></div>
<div style="left:771px;top:101px;width:14px;height:201px;border:1px solid;border-color:#fff #808080 #808080 #fff"></div>
<div style="left:770px;top:355px;width:16px;height:16px;background:#D4D0C8;border:1px solid;border-color:#D4D0C8 #404040 #404040 #D4D0C8"></div>
<div style="left:771px;top:356px;width:14px;height:14px;border:1px solid;border-color:#fff #808080 #808080 #fff"></div>
<svg style="left:774px;top:361px" width="8" height="5" viewBox="0 0 8 5"><path d="M0.5 0.5H7.5L4 4Z" fill="#000"/></svg>
<div style="left:1347px;top:84px;width:16px;height:287px;background-color:#D4D0C8;background-image:linear-gradient(45deg,#fff 25%,transparent 25%,transparent 75%,#fff 75%),linear-gradient(45deg,#fff 25%,transparent 25%,transparent 75%,#fff 75%);background-size:2px 2px;background-position:0 0,1px 1px"></div>
<div style="left:1347px;top:84px;width:16px;height:16px;background:#D4D0C8;border:1px solid;border-color:#D4D0C8 #404040 #404040 #D4D0C8"></div>
<div style="left:1348px;top:85px;width:14px;height:14px;border:1px solid;border-color:#fff #808080 #808080 #fff"></div>
<svg style="left:1351px;top:89px" width="8" height="5" viewBox="0 0 8 5"><path d="M0.5 4.5H7.5L4 1Z" fill="#000"/></svg>
<div style="left:1347px;top:100px;width:16px;height:203px;background:#D4D0C8;border:1px solid;border-color:#D4D0C8 #404040 #404040 #D4D0C8"></div>
<div style="left:1348px;top:101px;width:14px;height:201px;border:1px solid;border-color:#fff #808080 #808080 #fff"></div>
<div style="left:1347px;top:355px;width:16px;height:16px;background:#D4D0C8;border:1px solid;border-color:#D4D0C8 #404040 #404040 #D4D0C8"></div>
<div style="left:1348px;top:356px;width:14px;height:14px;border:1px solid;border-color:#fff #808080 #808080 #fff"></div>
<svg style="left:1351px;top:361px" width="8" height="5" viewBox="0 0 8 5"><path d="M0.5 0.5H7.5L4 4Z" fill="#000"/></svg>
<div style="left:209px;top:371px;width:1154px;height:191px;border:1px solid #99BBE8;background:#fff"></div>
<div style="left:210px;top:372px;width:1143px;height:26px;background:linear-gradient(#F3F7FF 0,#E9F1FF 66%,#DCE7FB 70%,#E0ECFF 100%)"></div>
<div style="left:210px;top:398px;width:1143px;height:1px;background:#99BBE8"></div>
<div class="t b nav" style="left:215px;top:379px"><i>采</i><i>购</i><i>分</i><i>析</i><i>高</i><i>级</i><i>数</i><i>据</i><i>源</i></div>
<div style="left:210px;top:399px;width:1143px;height:24px;background:linear-gradient(#FAFAFA 0,#F3F3F3 50%,#EDEDED 100%)"></div>
<div style="left:210px;top:423px;width:1143px;height:1px;background:#ccc"></div>
<div style="left:224px;top:399px;width:0;height:125px;border-left:1px dotted #c4c4c4"></div>
<div style="left:348px;top:399px;width:0;height:125px;border-left:1px dotted #c4c4c4"></div>
<div style="left:472px;top:399px;width:0;height:125px;border-left:1px dotted #c4c4c4"></div>
<div style="left:596px;top:399px;width:0;height:125px;border-left:1px dotted #c4c4c4"></div>
<div style="left:720px;top:399px;width:0;height:125px;border-left:1px dotted #c4c4c4"></div>
<div style="left:844px;top:399px;width:0;height:125px;border-left:1px dotted #c4c4c4"></div>
<div style="left:968px;top:399px;width:0;height:125px;border-left:1px dotted #c4c4c4"></div>
<div style="left:1092px;top:399px;width:0;height:125px;border-left:1px dotted #c4c4c4"></div>
<div style="left:1216px;top:399px;width:0;height:125px;border-left:1px dotted #c4c4c4"></div>
<div style="left:1343px;top:399px;width:0;height:125px;border-left:1px dotted #c4c4c4"></div>
<div style="left:210px;top:448px;width:1143px;height:0;border-top:1px dotted #c4c4c4"></div>
<div style="left:210px;top:473px;width:1143px;height:0;border-top:1px dotted #c4c4c4"></div>
<div style="left:210px;top:498px;width:1143px;height:0;border-top:1px dotted #c4c4c4"></div>
<div style="left:210px;top:523px;width:1143px;height:0;border-top:1px dotted #c4c4c4"></div>
<div class="t" style="left:222px;top:405px;width:123px;text-align:center"><i>月</i><i>份</i></div>
<div class="t num" style="left:225px;top:431px;width:123px;text-align:center">5</div>
<div class="t num" style="left:225px;top:456px;width:123px;text-align:center">6</div>
<div class="t num" style="left:225px;top:481px;width:123px;text-align:center">7</div>
<div class="t num" style="left:225px;top:506px;width:123px;text-align:center">8</div>
<div class="t" style="left:346px;top:405px;width:123px;text-align:center"><i>本</i><i>期</i><i>采</i><i>购</i></div>
<div class="t num" style="left:349px;top:431px;width:123px;text-align:center">5815885.63</div>
<div class="t num" style="left:349px;top:456px;width:123px;text-align:center">2825189.68</div>
<div class="t num" style="left:349px;top:481px;width:123px;text-align:center">3379220.37</div>
<div class="t num" style="left:349px;top:506px;width:123px;text-align:center">362636.91</div>
<div class="t" style="left:470px;top:405px;width:123px;text-align:center"><i>环</i><i>比</i><i>采</i><i>购</i></div>
<div class="t num" style="left:473px;top:431px;width:123px;text-align:center">0.00</div>
<div class="t num" style="left:473px;top:456px;width:123px;text-align:center">5815885.63</div>
<div class="t num" style="left:473px;top:481px;width:123px;text-align:center">2825189.68</div>
<div class="t num" style="left:473px;top:506px;width:123px;text-align:center">3379220.37</div>
<div class="t" style="left:594px;top:405px;width:123px;text-align:center"><i>同</i><i>比</i><i>采</i><i>购</i></div>
<div class="t num" style="left:597px;top:431px;width:123px;text-align:center">0.00</div>
<div class="t num" style="left:597px;top:456px;width:123px;text-align:center">0.00</div>
<div class="t num" style="left:597px;top:481px;width:123px;text-align:center">0.00</div>
<div class="t num" style="left:597px;top:506px;width:123px;text-align:center">0.00</div>
<div class="t" style="left:718px;top:405px;width:123px;text-align:center"><i>采</i><i>购</i><i>环</i><i>比</i><i>增</i><i>量</i></div>
<div class="t num" style="left:721px;top:431px;width:123px;text-align:center">5815885.63</div>
<div class="t num" style="left:721px;top:456px;width:123px;text-align:center">-2990695.95</div>
<div class="t num" style="left:721px;top:481px;width:123px;text-align:center">554030.69</div>
<div class="t num" style="left:721px;top:506px;width:123px;text-align:center">-3016583.46</div>
<div class="t" style="left:842px;top:405px;width:123px;text-align:center"><i>采</i><i>购</i><i>同</i><i>比</i><i>增</i><i>量</i></div>
<div class="t num" style="left:845px;top:431px;width:123px;text-align:center">5815885.63</div>
<div class="t num" style="left:845px;top:456px;width:123px;text-align:center">2825189.68</div>
<div class="t num" style="left:845px;top:481px;width:123px;text-align:center">3379220.37</div>
<div class="t num" style="left:845px;top:506px;width:123px;text-align:center">362636.91</div>
<div class="t" style="left:966px;top:405px;width:123px;text-align:center"><i>采</i><i>购</i><i>环</i><i>比</i><i>增</i><i>长</i><i>率</i></div>
<div class="t num" style="left:969px;top:431px;width:123px;text-align:center">0.00</div>
<div class="t num" style="left:969px;top:456px;width:123px;text-align:center">-0.51</div>
<div class="t num" style="left:969px;top:481px;width:123px;text-align:center">0.20</div>
<div class="t num" style="left:969px;top:506px;width:123px;text-align:center">-0.89</div>
<div class="t" style="left:1090px;top:405px;width:123px;text-align:center"><i>采</i><i>购</i><i>同</i><i>比</i><i>增</i><i>长</i><i>率</i></div>
<div class="t num" style="left:1093px;top:431px;width:123px;text-align:center">0.00</div>
<div class="t num" style="left:1093px;top:456px;width:123px;text-align:center">0.00</div>
<div class="t num" style="left:1093px;top:481px;width:123px;text-align:center">0.00</div>
<div class="t num" style="left:1093px;top:506px;width:123px;text-align:center">0.00</div>
<div class="t" style="left:1214px;top:405px;width:126px;text-align:center"><i>累</i><i>计</i><i>采</i><i>购</i></div>
<div class="t num" style="left:1217px;top:431px;width:126px;text-align:center">5815885.63</div>
<div class="t num" style="left:1217px;top:456px;width:126px;text-align:center">8641075.31</div>
<div class="t num" style="left:1217px;top:481px;width:126px;text-align:center">12020295.68</div>
<div class="t num" style="left:1217px;top:506px;width:126px;text-align:center">12382932.59</div>
<div style="left:210px;top:530px;width:1143px;height:31px;background:#F4F4F4;border-top:1px solid #ccc"></div>
<div style="left:216px;top:535px;width:45px;height:22px;background:#fff;border:1px solid #95B8E7"></div>
<div style="left:223px;top:539px;height:14px;line-height:14px;font-size:13px">10</div>
<div style="left:242px;top:537px;width:16px;height:18px;background:#D4D0C8;border:1px solid;border-color:#D4D0C8 #404040 #404040 #D4D0C8"></div>
<div style="left:243px;top:538px;width:14px;height:16px;border:1px solid;border-color:#fff #808080 #808080 #fff"></div>
<svg style="left:246px;top:543px" width="8" height="5" viewBox="0 0 8 5"><path d="M0.5 0.5H7.5L4 4Z" fill="#000"/></svg>
<div style="left:267px;top:534px;width:2px;height:24px;border-left:1px solid #ccc;border-right:1px solid #fff"></div>
<div style="left:323px;top:534px;width:2px;height:24px;border-left:1px solid #ccc;border-right:1px solid #fff"></div>
<div style="left:412px;top:534px;width:2px;height:24px;border-left:1px solid #ccc;border-right:1px solid #fff"></div>
<div style="left:468px;top:534px;width:2px;height:24px;border-left:1px solid #ccc;border-right:1px solid #fff"></div>
<svg style="left:278px;top:540px" width="10" height="11" viewBox="0 0 10 11"><path d="M0.5 0.5H2.5V10.5H0.5ZM9.5 0.5V10.5L3 5.5Z" fill="#7CBBEA"/></svg>
<svg style="left:305px;top:540px" width="8" height="11" viewBox="0 0 8 11"><path d="M7.5 0.5V10.5L1 5.5Z" fill="#7CBBEA"/></svg>
<div class="t" style="left:332px;top:540px"><i>第</i></div>
<div style="left:346px;top:535px;width:27px;height:22px;background:#fff;border:1px solid #95B8E7"></div>
<div style="left:351px;top:539px;height:14px;line-height:14px;font-size:13px">1</div>
<div class="t" style="left:375px;top:540px"><i>共</i>1<i>页</i></div>
<svg style="left:424px;top:540px" width="8" height="11" viewBox="0 0 8 11"><path d="M0.5 0.5V10.5L7 5.5Z" fill="#7CBBEA"/></svg>
<svg style="left:449px;top:540px" width="10" height="11" viewBox="0 0 10 11"><path d="M7.5 0.5H9.5V10.5H7.5ZM0.5 0.5V10.5L7 5.5Z" fill="#7CBBEA"/></svg>
<svg style="left:478px;top:539px" width="12" height="13" viewBox="0 0 12 13"><path d="M7.6 3.3A4 4 0 1 1 3.6 3.8" fill="none" stroke="#2B7FD8" stroke-width="1.8"/><path d="M4.6 0.3L8.6 2.9L4.6 5.6Z" fill="#2B7FD8" transform="rotate(12 6 3)"/></svg>
<div class="t" style="left:1259px;top:540px"><i>显</i><i>示</i>1<i>到</i>4,<i>共</i>4<i>记</i><i>录</i></div>
<div style="left:-1px;top:568px;width:1365px;height:25px;border:1px solid #99BBE8;background:#D2E0F2"></div>
<div style="left:0;top:593px;width:1353px;height:1px;background:#E2DFD8"></div>
<div style="left:9px;font-size:13px;font-weight:bold;height:13px;line-height:13px;top:574px;color:#15428B"><i>当</i><i>前</i><i>日</i><i>期</i></div>
<div style="left:61px;font-family:'Liberation Serif',serif;font-size:15px;font-weight:bold;height:15px;line-height:15px;top:573px;color:#15428B">:</div>
<div style="left:70px;font-family:'Liberation Serif',serif;font-size:15px;font-weight:bold;height:15px;line-height:15px;top:573px;color:#15428B">2015</div>
<div style="left:101px;font-size:13px;font-weight:bold;height:13px;line-height:13px;top:574px;color:#15428B"><i>年</i></div>
<div style="left:115px;font-family:'Liberation Serif',serif;font-size:15px;font-weight:bold;height:15px;line-height:15px;top:573px;color:#15428B">09</div>
<div style="left:132px;font-size:13px;font-weight:bold;height:13px;line-height:13px;top:574px;color:#15428B"><i>月</i></div>
<div style="left:146px;font-family:'Liberation Serif',serif;font-size:15px;font-weight:bold;height:15px;line-height:15px;top:573px;color:#15428B">23</div>
<div style="left:161px;font-size:13px;font-weight:bold;height:13px;line-height:13px;top:574px;color:#15428B"><i>日</i></div>
<div style="left:527px;font-size:13px;font-weight:bold;height:13px;line-height:13px;top:574px;color:#15428B"><i>版</i><i>权</i><i>所</i><i>有</i></div>
<div style="left:579px;font-family:'Liberation Serif',serif;font-size:15px;font-weight:bold;height:15px;line-height:15px;top:573px;font-size:13px;color:#15428B">@</div>
<div style="left:590px;font-size:13px;font-weight:bold;height:13px;line-height:13px;top:574px;color:#15428B"><i>广</i><i>州</i><i>鼎</i><i>杰</i><i>软</i><i>件</i><i>科</i><i>技</i><i>有</i><i>限</i><i>公</i><i>司</i></div>
<div style="left:750px;font-family:'Liberation Serif',serif;font-size:15px;font-weight:bold;height:15px;line-height:15px;top:573px;color:#15428B">2014-2015</div>
<div style="left:824px;top:583px;width:3px;height:3px;background:#15428B"></div>
<div style="left:1240px;font-size:13px;font-weight:bold;height:13px;line-height:13px;top:574px;color:#000"><i>帮</i><i>助</i></div>
<div style="left:1277px;font-size:13px;font-weight:bold;height:13px;line-height:13px;top:574px;color:#000"><i>建</i><i>议</i></div>
<div style="left:1315px;top:573px;height:15px;line-height:15px;font-size:14px;font-weight:bold;color:#15428B">V1.00</div>
<svg style="left:1160px;top:589px" width="193" height="5" viewBox="1160 589 193 5"><path d="M1163 594L1167 590.5H1353V594Z" fill="#fff"/><path d="M1174 590.3H1353" stroke="#BDBDBD" stroke-width="0.9"/><path d="M1171 594L1174.5 590.5" stroke="#C8C8C8" stroke-width="0.8"/></svg>
<div style="left:1352px;top:562px;width:1px;height:32px;background:#B9BDC4;opacity:.8"></div>
</body>
</html>
